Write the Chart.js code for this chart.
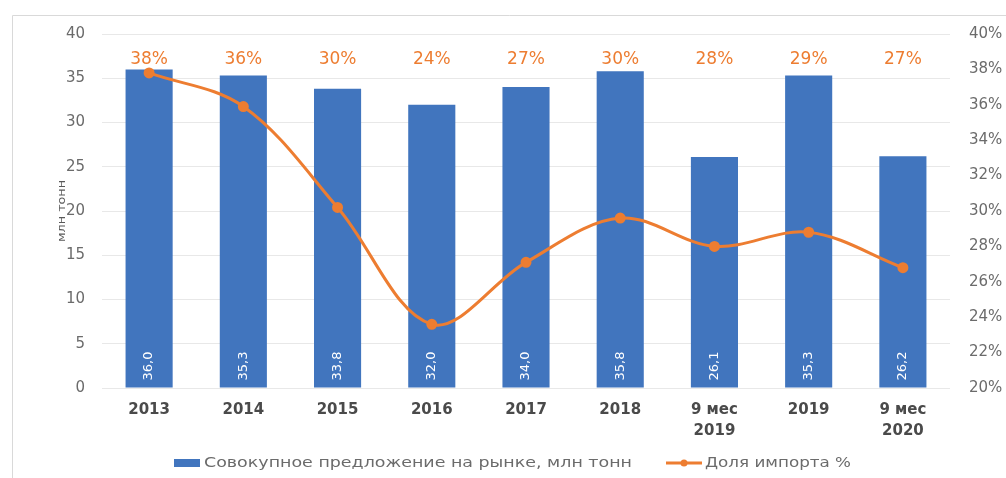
<!DOCTYPE html>
<html>
<head>
<meta charset="utf-8">
<script src="https://cdn.jsdelivr.net/npm/chart.js@4.4.1/dist/chart.umd.min.js"></script>
<style>
  html, body { margin: 0; padding: 0; background: #fff; }
  #wrap { position: relative; width: 1006px; height: 478px; }
</style>
</head>
<body>
<div id="wrap"><canvas id="c" width="1006" height="478"></canvas></div>
<script>
// Categories (multi-line labels for the nine-month periods)
const categories = ['2013', '2014', '2015', '2016', '2017', '2018', ['9 мес', '2019'], '2019', ['9 мес', '2020']];
// Total market supply, million tonnes
const supply = [36.0, 35.3, 33.8, 32.0, 34.0, 35.8, 26.1, 35.3, 26.2];
// Import share, %
const importShare = [37.8, 35.9, 30.2, 23.6, 27.1, 29.6, 28.0, 28.8, 26.8];
// Axis ranges
const leftAxis = { min: 0, max: 40, step: 5 };
const rightAxis = { min: 20, max: 40, step: 2 };

const seriesNames = ['Совокупное предложение на рынке, млн тонн', 'Доля импорта %'];
const axisTitle = 'млн тонн';

const BLUE = '#4175be';
const ORANGE = '#ed7d31';
const GREY = '#6b6b6b';
const FONT = '"DejaVu Sans", "Open Sans", sans-serif';

// draws text stretched horizontally so it spans the given width
function fillWide(ctx, txt, x, y, width) {
  const w = ctx.measureText(txt).width;
  ctx.save();
  ctx.translate(x, y);
  ctx.scale(width / w, 1);
  ctx.fillText(txt, 0, 0);
  ctx.restore();
}

const decorations = {
  id: 'decorations',
  beforeDraw(chart) {
    const ctx = chart.ctx;
    ctx.save();
    ctx.strokeStyle = '#d9d9d9';
    ctx.lineWidth = 1;
    ctx.beginPath();
    ctx.moveTo(12.5, 478);
    ctx.lineTo(12.5, 15.5);
    ctx.lineTo(1006, 15.5);
    ctx.stroke();
    ctx.restore();
  },
  afterDatasetsDraw(chart) {
    const ctx = chart.ctx;
    const area = chart.chartArea;
    const yScale = chart.scales.y;
    const barMeta = chart.getDatasetMeta(1);
    ctx.save();

    // values inside the bars, rotated
    ctx.fillStyle = '#ffffff';
    ctx.font = '13px ' + FONT;
    ctx.textAlign = 'center';
    ctx.textBaseline = 'middle';
    barMeta.data.forEach((bar, i) => {
      const txt = supply[i].toFixed(1).replace('.', ',');
      ctx.save();
      ctx.translate(bar.x, yScale.getPixelForValue(0) - 22);
      ctx.rotate(-Math.PI / 2);
      ctx.fillText(txt, 0, 0);
      ctx.restore();
    });

    // import share labels along the top
    ctx.fillStyle = ORANGE;
    ctx.font = '17px ' + FONT;
    barMeta.data.forEach((bar, i) => {
      ctx.fillText(Math.round(importShare[i]) + '%', bar.x, area.top + 26);
    });

    // left axis title
    ctx.fillStyle = '#595959';
    ctx.font = '11px ' + FONT;
    ctx.save();
    ctx.translate(62, 211);
    ctx.rotate(-Math.PI / 2);
    fillWide(ctx, axisTitle, 0, 0, 62);
    ctx.restore();

    // legend
    const ly = 463;
    ctx.font = '14px ' + FONT;
    ctx.textAlign = 'left';
    ctx.fillStyle = BLUE;
    ctx.fillRect(174, ly - 4, 26, 8);
    ctx.fillStyle = GREY;
    fillWide(ctx, seriesNames[0], 204, ly, 428);
    ctx.strokeStyle = ORANGE;
    ctx.lineWidth = 3;
    ctx.beginPath();
    ctx.moveTo(666, ly);
    ctx.lineTo(702, ly);
    ctx.stroke();
    ctx.fillStyle = ORANGE;
    ctx.beginPath();
    ctx.arc(684, ly, 3.5, 0, Math.PI * 2);
    ctx.fill();
    ctx.fillStyle = GREY;
    fillWide(ctx, seriesNames[1], 705, ly, 146);
    ctx.restore();
  }
};

new Chart(document.getElementById('c'), {
  data: {
    labels: categories,
    datasets: [
      {
        type: 'line',
        label: seriesNames[1],
        data: importShare,
        yAxisID: 'y1',
        borderColor: ORANGE,
        backgroundColor: ORANGE,
        borderWidth: 3,
        tension: 0.35,
        pointRadius: 4,
        pointHoverRadius: 4,
        order: 0
      },
      {
        type: 'bar',
        label: seriesNames[0],
        data: supply,
        yAxisID: 'y',
        backgroundColor: BLUE,
        categoryPercentage: 1.0,
        barPercentage: 0.5,
        order: 1
      }
    ]
  },
  options: {
    responsive: false,
    animation: false,
    devicePixelRatio: 1,
    layout: { padding: { top: 34, bottom: 25, left: 0, right: 0 } },
    plugins: { legend: { display: false }, tooltip: { enabled: false } },
    scales: {
      x: {
        grid: { display: false },
        border: { display: false },
        ticks: {
          color: '#4a4a4a',
          font: { family: FONT, size: 15, weight: 'bold', lineHeight: 1.4 },
          padding: 4,
          maxRotation: 0,
          autoSkip: false
        },
        afterFit(s) { s.height = 65; }
      },
      y: {
        position: 'left',
        min: leftAxis.min,
        max: leftAxis.max,
        ticks: {
          stepSize: leftAxis.step,
          color: GREY,
          font: { family: FONT, size: 15 },
          padding: 17
        },
        grid: { color: '#e8e8e8', drawTicks: false },
        border: { display: false },
        afterFit(s) { s.width = 102; }
      },
      y1: {
        position: 'right',
        min: rightAxis.min,
        max: rightAxis.max,
        ticks: {
          stepSize: rightAxis.step,
          color: GREY,
          font: { family: FONT, size: 15 },
          padding: 19,
          callback: v => v + '%'
        },
        grid: { display: false, drawTicks: false },
        border: { display: false },
        afterFit(s) { s.width = 56; }
      }
    }
  },
  plugins: [decorations]
});
</script>
</body>
</html>
